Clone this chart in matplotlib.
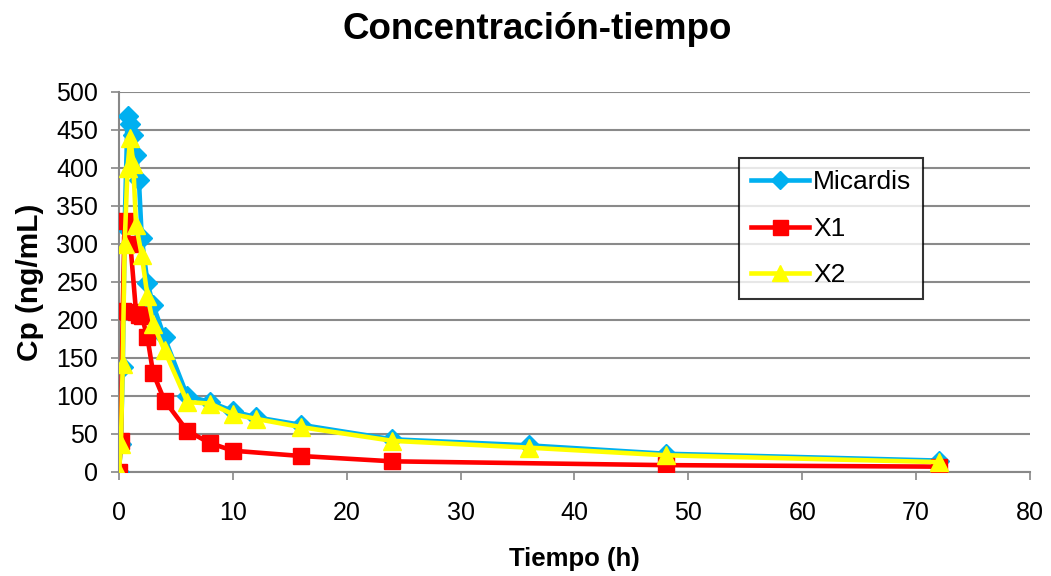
import matplotlib
matplotlib.use('Agg')
import matplotlib.pyplot as plt

# Time points (h) and plasma concentrations (ng/mL)
T_MICARDIS = [0, 0.17, 0.33, 0.5, 0.75, 1, 1.25, 1.5, 1.75, 2, 2.5, 3, 4,
              6, 8, 10, 12, 16, 24, 36, 48, 72]
CP_MICARDIS = [0, 37, 138, 323, 468, 458, 443, 417, 384, 308, 249, 220, 177,
               100, 92, 80, 72, 62, 43, 35, 24, 15]

T_X1 = [0, 0.17, 0.33, 0.5, 1, 1.5, 1.75, 2, 2.5, 3, 4, 6, 8, 10, 16, 24, 48, 72]
CP_X1 = [0, 41, 212, 330, 300, 210, 206, 205, 177, 130, 94, 54, 38, 28, 21, 14, 9, 7]

T_X2 = [0, 0.17, 0.33, 0.5, 0.75, 1, 1.25, 1.5, 2, 2.5, 3, 4,
        6, 8, 10, 12, 16, 24, 36, 48, 72]
CP_X2 = [0, 37, 142, 300, 400, 440, 405, 325, 285, 232, 195, 160,
         92, 90, 76, 70, 59, 41, 32, 22, 13]

plt.rcParams['font.family'] = ['Liberation Sans', 'DejaVu Sans']

fig = plt.figure(figsize=(10.51, 5.76), dpi=100)
ax = fig.add_axes([0.1132, 0.1806, 0.8668, 0.6597])

ax.plot(T_MICARDIS, CP_MICARDIS, color='#00B0F0', lw=3.3, marker='D',
        markersize=10, label='Micardis', zorder=3)
ax.plot(T_X1, CP_X1, color='#FF0000', lw=3.3, marker='s',
        markersize=12, label='X1', zorder=4)
ax.plot(T_X2, CP_X2, color='#FFFF00', lw=3.3, marker='^',
        markersize=13, label='X2', zorder=5)

ax.set_xlim(0, 80)
ax.set_ylim(0, 500)
ax.set_xticks(range(0, 81, 10))
ax.set_yticks(range(0, 501, 50))
ax.tick_params(labelsize=18, color='#888888', length=6, width=1.2)
ax.tick_params(axis='x', pad=15)
ax.tick_params(axis='y', pad=9)
ax.yaxis.grid(True, color='#8a8a8a', lw=1.5)
ax.set_axisbelow(True)
for s in ('top', 'right'):
    ax.spines[s].set_visible(False)
for s in ('left', 'bottom'):
    ax.spines[s].set_color('#888888')
    ax.spines[s].set_linewidth(1.5)

ax.set_xlabel('Tiempo (h)', fontsize=18.5, fontweight='bold', labelpad=16)
ax.set_ylabel('Cp (ng/mL)', fontsize=21.5, fontweight='bold', labelpad=9)
fig.text(0.511, 0.98, 'Concentración-tiempo', fontsize=26.5,
         fontweight='bold', ha='center', va='top')

leg = ax.legend(loc='upper left', bbox_to_anchor=(0.681, 0.825), fontsize=19,
                frameon=True, fancybox=False, edgecolor='black',
                handlelength=2.2, borderpad=0.45, labelspacing=0.85,
                handletextpad=0.15, borderaxespad=0, markerscale=0.9)
leg.get_frame().set_linewidth(1.5)

fig.savefig('out.png', dpi=100)
